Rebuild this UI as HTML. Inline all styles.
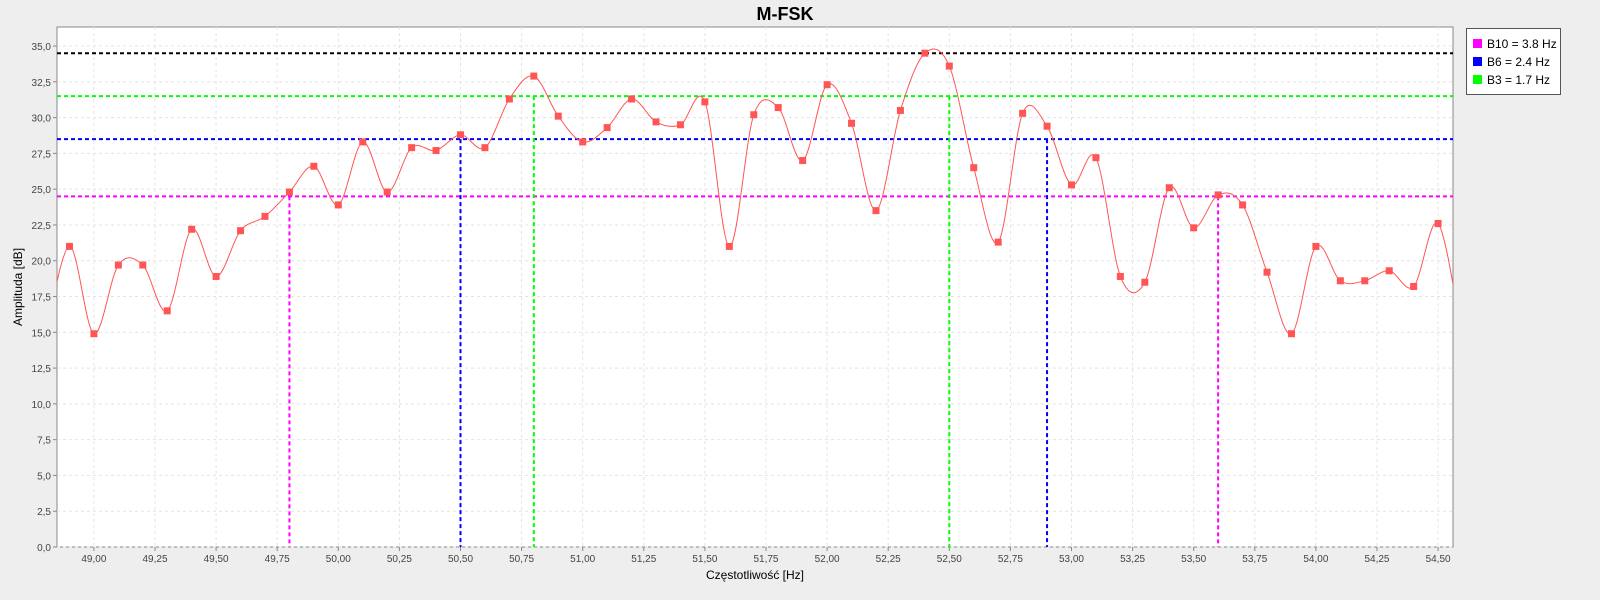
<!DOCTYPE html>
<html><head><meta charset="utf-8"><style>
body{margin:0;background:#eeeeee;font-family:"Liberation Sans",sans-serif}
svg{display:block}
</style></head><body>
<svg id="c" width="1600" height="600" xmlns="http://www.w3.org/2000/svg">
<text x="785" y="20" text-anchor="middle" font-size="18" font-weight="bold">M-FSK</text>
<rect x="57" y="27" width="1396" height="520" fill="#fff" stroke="#888"/>
<g id="grid"></g><g id="axes"></g><g id="refs"></g><g id="series"></g>
<text x="755" y="579" text-anchor="middle" font-size="12">Częstotliwość [Hz]</text>
<text transform="translate(22,287) rotate(-90)" text-anchor="middle" font-size="12">Amplituda [dB]</text>
<g>
<rect x="1466.5" y="28.5" width="94" height="66" fill="#fff" stroke="#555"/>
<g><rect x="1473" y="39" width="9" height="9" fill="#ff00ff"/><text x="1487" y="48" font-size="12">B10 = 3.8 Hz</text></g>
<g><rect x="1473" y="57" width="9" height="9" fill="#0000ff"/><text x="1487" y="66" font-size="12">B6 = 2.4 Hz</text></g>
<g><rect x="1473" y="75" width="9" height="9" fill="#00ff00"/><text x="1487" y="84" font-size="12">B3 = 1.7 Hz</text></g>
</g>
</svg>
<script>
const freqs=[48.9,49.0,49.1,49.2,49.3,49.4,49.5,49.6,49.7,49.8,49.9,50.0,50.1,50.2,50.3,50.4,50.5,50.6,50.7,50.8,50.9,51.0,51.1,51.2,51.3,51.4,51.5,51.6,51.7,51.8,51.9,52.0,52.1,52.2,52.3,52.4,52.5,52.6,52.7,52.8,52.9,53.0,53.1,53.2,53.3,53.4,53.5,53.6,53.7,53.8,53.9,54.0,54.1,54.2,54.3,54.4,54.5];
const amps=[21.0,14.9,19.7,19.7,16.5,22.2,18.9,22.1,23.1,24.8,26.6,23.9,28.3,24.8,27.9,27.7,28.8,27.9,31.3,32.9,30.1,28.3,29.3,31.3,29.7,29.5,31.1,21.0,30.2,30.7,27.0,32.3,29.6,23.5,30.5,34.5,33.6,26.5,21.3,30.3,29.4,25.3,27.2,18.9,18.5,25.1,22.3,24.6,23.9,19.2,14.9,21.0,18.6,18.6,19.3,18.2,22.6];
const edgeFreqs=[48.8,54.6];
const edgeAmps=[14.5,14.5];
const refNames=["b10","b6","b3","peak"];
const refLevels=[24.5,28.5,31.5,34.5];
const refLeft=[49.8,50.5,50.8,null];
const refRight=[53.6,52.9,52.5,null];
const refColors=["#ff00ff","#0000ff","#00ff00","#000000"];
const yTicks=[0,2.5,5,7.5,10,12.5,15,17.5,20,22.5,25,27.5,30,32.5,35];
const xTicks=[49,49.25,49.5,49.75,50,50.25,50.5,50.75,51,51.25,51.5,51.75,52,52.25,52.5,52.75,53,53.25,53.5,53.75,54,54.25,54.5];
const X0=48.849,X1=54.561,Y0=0,Y1=36.33,L=57,R=1453,T=27,B=547;
const sx=v=>L+(v-X0)/(X1-X0)*(R-L);
const sy=v=>B-(v-Y0)/(Y1-Y0)*(B-T);
const NS="http://www.w3.org/2000/svg";
function mk(p,tag,a){const e=document.createElementNS(NS,tag);for(const k in a)e.setAttribute(k,a[k]);document.getElementById(p).appendChild(e);return e;}
yTicks.forEach(t=>{const y=sy(t);
 const g=mk("grid","line",{x1:L,x2:R,y1:y,y2:y,stroke:"#e4e4e4","stroke-dasharray":"3,3"});
 
 mk("axes","line",{x1:L-4,x2:L,y1:y,y2:y,stroke:"#888"});
 const tx=mk("axes","text",{x:L-6,y:y+4,"text-anchor":"end","font-size":"10",fill:"#444"});
 tx.textContent=t.toFixed(1).replace('.',',');
 });
xTicks.forEach(t=>{const x=sx(t);
 const g=mk("grid","line",{x1:x,x2:x,y1:T,y2:B,stroke:"#e4e4e4","stroke-dasharray":"3,3"});
 
 mk("axes","line",{x1:x,x2:x,y1:B,y2:B+4,stroke:"#888"});
 const tx=mk("axes","text",{x:x,y:B+15,"text-anchor":"middle","font-size":"10",fill:"#444"});
 tx.textContent=t.toFixed(2).replace('.',',');
 });
refLevels.forEach((lv,i)=>{const y=sy(lv);
 const h=mk("refs","line",{x1:L,x2:R,y1:y,y2:y,stroke:refColors[i],"stroke-width":2,"stroke-dasharray":"4,3"});
 
 [refLeft[i],refRight[i]].forEach(f=>{if(f==null)return;
  const v=mk("refs","line",{x1:sx(f),x2:sx(f),y1:y,y2:B,stroke:refColors[i],"stroke-width":2,"stroke-dasharray":"4,3"});
  });});
const P=freqs.map((f,i)=>[sx(f),sy(amps[i])]);
const ext=[[sx(edgeFreqs[0]),sy(edgeAmps[0])],...P,[sx(edgeFreqs[1]),sy(edgeAmps[1])]];
let d="M"+ext[0][0]+","+ext[0][1];
for(let i=0;i<ext.length-1;i++){const p0=ext[Math.max(0,i-1)],p1=ext[i],p2=ext[i+1],p3=ext[Math.min(ext.length-1,i+2)];
 d+=` C${p1[0]+(p2[0]-p0[0])/6},${p1[1]+(p2[1]-p0[1])/6} ${p2[0]-(p3[0]-p1[0])/6},${p2[1]-(p3[1]-p1[1])/6} ${p2[0]},${p2[1]}`;}
mk("series","clipPath",{id:"clp"});
const cr=document.createElementNS(NS,"rect");document.getElementById("clp").appendChild(cr);
cr.setAttribute("x",L);cr.setAttribute("y",T);cr.setAttribute("width",R-L);cr.setAttribute("height",B-T);
const line=mk("series","path",{d:d,fill:"none",stroke:"#ff5555","stroke-width":1,"clip-path":"url(#clp)"});

P.forEach(p=>{const r=mk("series","rect",{x:p[0]-3.5,y:p[1]-3.5,width:7,height:7,fill:"#ff5555"});
 });
</script>
</body></html>
